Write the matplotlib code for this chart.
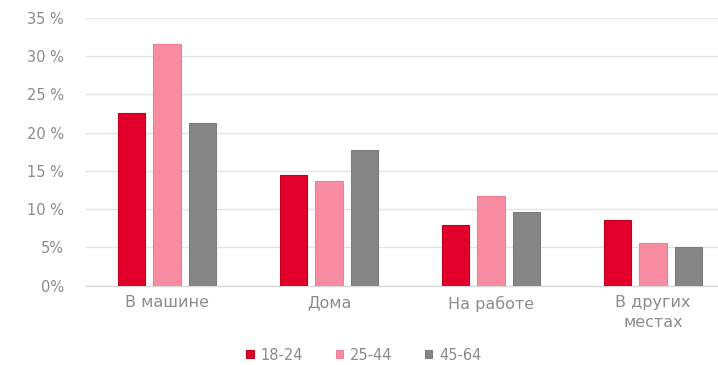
import matplotlib
matplotlib.use("Agg")
import matplotlib.pyplot as plt
import numpy as np

categories = ["В машине", "Дома", "На работе", "В других\nместах"]
series_names = ["18-24", "25-44", "45-64"]
v_18_24 = [22.6, 14.5, 7.9, 8.6]
v_25_44 = [31.6, 13.7, 11.7, 5.6]
v_45_64 = [21.3, 17.8, 9.7, 5.0]
colors = ["#E2002B", "#F88CA2", "#858585"]
edge_colors = ["#C0001F", "#F27D95", "#7C7C7C"]
ytick_vals = [0, 5, 10, 15, 20, 25, 30, 35]
ytick_labels = ["0%", "5%", "10 %", "15 %", "20 %", "25 %", "30 %", "35 %"]

plt.rcParams['font.family'] = ['DejaVu Sans']
text_color = "#8c8c8c"

fig = plt.figure(figsize=(7.18, 3.65), dpi=100)
ax = fig.add_axes([86/718, (365-285.7)/365, 648/718, (285.7-18)/365])

x = np.arange(len(categories))
width = 0.167
step = 0.222
for i, (vals, name) in enumerate(zip([v_18_24, v_25_44, v_45_64], series_names)):
    ax.bar(x + (i - 1) * step, vals, width, color=colors[i], edgecolor=edge_colors[i],
           linewidth=0.8, label=name, zorder=3)

ax.set_xlim(-0.5, 3.5)
ax.set_ylim(0, 35)
ax.set_yticks(ytick_vals)
ax.set_yticklabels(ytick_labels)
ax.set_xticks(x)
ax.set_xticklabels(categories, linespacing=1.35)
ax.tick_params(axis='both', length=0, colors=text_color)
ax.tick_params(axis='y', labelsize=10.5, pad=16)
ax.tick_params(axis='x', labelsize=11.5, pad=7)
ax.yaxis.grid(True, color="#e4e4e4", linewidth=1.0, zorder=0)
ax.set_axisbelow(True)
for s in ["top", "right", "left"]:
    ax.spines[s].set_visible(False)
ax.spines["bottom"].set_color("#d9d9d9")
ax.spines["bottom"].set_linewidth(1.0)

leg = fig.legend(loc='center', bbox_to_anchor=(364/718, 1 - 355/365), ncol=3, frameon=False,
                 handlelength=0.5, handleheight=0.5, handletextpad=0.5, columnspacing=2.2,
                 fontsize=10.5, labelcolor=text_color)

fig.savefig("out.png", dpi=100)
